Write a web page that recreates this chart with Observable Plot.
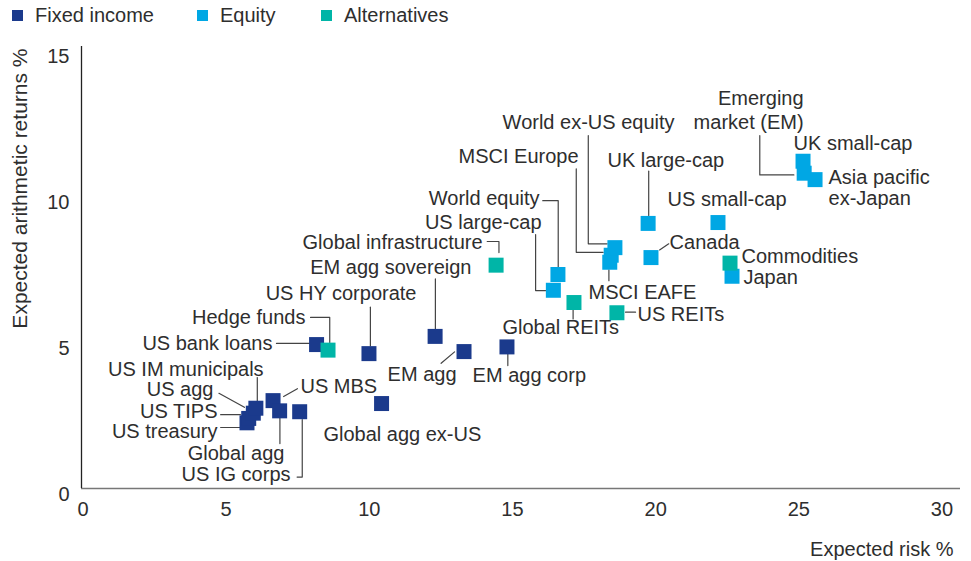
<!DOCTYPE html>
<html><head><meta charset="utf-8">
<script src="https://cdn.jsdelivr.net/npm/d3@7"></script>
<script src="https://cdn.jsdelivr.net/npm/@observablehq/plot@0.6"></script>
<style>
body{margin:0;background:#fff;font-family:"Liberation Sans",Arial,sans-serif;color:#2e2e2e;}
#legend{position:relative;height:30px;font-size:20px;width:971px;}
.item{position:absolute;top:0;height:30px;display:flex;align-items:center;white-space:nowrap;}
.sw{width:11px;height:11px;display:inline-block;margin-right:12px;}
</style></head><body>
<div id="legend"></div><div id="chart"></div>
<script>
// ---- data ----
const categories = ["Fixed income", "Equity", "Alternatives"];
const colors = ["#1b3a8c", "#00a7e4", "#00b5a7"];
const names = [
  "US treasury", "US TIPS", "US agg", "US IM municipals", "US MBS", "Global agg", "US IG corps",
  "US bank loans", "US HY corporate", "Global agg ex-US", "EM agg sovereign", "EM agg", "EM agg corp",
  "World equity", "US large-cap", "MSCI EAFE", "MSCI Europe", "World ex-US equity", "UK large-cap",
  "Canada", "US small-cap", "Japan", "UK small-cap", "Emerging market (EM)", "Asia pacific ex-Japan",
  "Hedge funds", "Global infrastructure", "Global REITs", "US REITs", "Commodities"
];
const groups = [
  "Fixed income", "Fixed income", "Fixed income", "Fixed income", "Fixed income", "Fixed income", "Fixed income",
  "Fixed income", "Fixed income", "Fixed income", "Fixed income", "Fixed income", "Fixed income",
  "Equity", "Equity", "Equity", "Equity", "Equity", "Equity",
  "Equity", "Equity", "Equity", "Equity", "Equity", "Equity",
  "Alternatives", "Alternatives", "Alternatives", "Alternatives", "Alternatives"
];
const risk = [
  5.78, 5.84, 6.00, 6.09, 6.69, 6.92, 7.62,
  8.21, 10.04, 10.48, 12.35, 13.36, 14.86,
  16.64, 16.48, 18.45, 18.50, 18.63, 19.79,
  19.89, 22.23, 22.72, 25.20, 25.24, 25.62,
  8.61, 14.48, 17.20, 18.70, 22.65
];
const returns = [
  2.25, 2.40, 2.58, 2.75, 3.01, 2.66, 2.63,
  4.93, 4.62, 2.91, 5.21, 4.69, 4.85,
  7.33, 6.79, 7.75, 7.99, 8.25, 9.08,
  7.91, 9.11, 7.27, 11.21, 10.80, 10.58,
  4.74, 7.65, 6.37, 6.02, 7.72
];
const xTicks = [0, 5, 10, 15, 20, 25, 30];
const yTicks = [0, 5, 10, 15];
const xTitle = "Expected risk %";
const yTitle = "Expected arithmetic returns %";

// ---- label layout (annotation positions, in data units) ----
const annotations = [
  {text: "US bank loans", x: 6.67, y: 4.97, anchor: "end", path: [[6.81, 4.97], [7.96, 4.97]]},
  {text: "Hedge funds", x: 7.82, y: 5.86, anchor: "end", path: [[8.00, 5.86], [8.67, 5.86], [8.67, 5.00]]},
  {text: "US IM municipals", x: 6.36, y: 4.08, anchor: "end", path: [[6.14, 3.80], [6.14, 3.01]]},
  {text: "US agg", x: 4.61, y: 3.38, anchor: "end", path: [[4.80, 3.26], [5.69, 2.78]]},
  {text: "US TIPS", x: 4.75, y: 2.64, anchor: "end", path: [[4.86, 2.53], [5.55, 2.53]]},
  {text: "US treasury", x: 4.75, y: 1.95, anchor: "end", path: [[4.86, 2.09], [5.55, 2.09]]},
  {text: "US MBS", x: 7.65, y: 3.49, anchor: "start", path: [[7.06, 3.15], [7.54, 3.42]]},
  {text: "Global agg", x: 7.09, y: 1.20, anchor: "end", path: [[6.93, 2.40], [6.93, 1.54]]},
  {text: "US IG corps", x: 7.30, y: 0.48, anchor: "end", path: [[7.71, 2.36], [7.71, 0.39], [7.53, 0.39]]},
  {text: "Global agg ex-US", x: 8.45, y: 1.85, anchor: "start", path: null},
  {text: "US HY corporate", x: 11.70, y: 6.68, anchor: "end", path: [[10.09, 6.21], [10.09, 4.88]]},
  {text: "EM agg sovereign", x: 13.62, y: 7.57, anchor: "end", path: [[12.36, 7.18], [12.36, 5.45]]},
  {text: "Global infrastructure", x: 14.01, y: 8.42, anchor: "end", path: [[14.17, 8.46], [14.58, 8.46], [14.58, 8.08]]},
  {text: "EM agg", x: 10.69, y: 3.90, anchor: "start", path: [[12.56, 4.29], [13.03, 4.68]]},
  {text: "EM agg corp", x: 13.66, y: 3.87, anchor: "start", path: [[14.89, 4.61], [14.89, 4.21]]},
  {text: "Global REITs", x: 14.70, y: 5.50, anchor: "start", path: [[17.17, 6.12], [17.17, 5.81]]},
  {text: "US REITs", x: 19.42, y: 5.96, anchor: "start", path: [[19.00, 6.04], [19.35, 6.04]]},
  {text: "MSCI EAFE", x: 17.71, y: 6.71, anchor: "start", path: [[18.42, 7.49], [18.42, 7.12]]},
  {text: "World equity", x: 16.00, y: 9.93, anchor: "end", path: [[16.11, 9.86], [16.65, 9.86], [16.65, 7.58]]},
  {text: "US large-cap", x: 16.07, y: 9.11, anchor: "end", path: [[15.86, 8.70], [15.86, 6.78], [16.21, 6.78]]},
  {text: "MSCI Europe", x: 17.36, y: 11.37, anchor: "end", path: [[17.28, 10.95], [17.28, 8.09], [18.22, 8.09]]},
  {text: "World ex-US equity", x: 17.71, y: 12.54, anchor: "middle", path: [[17.70, 12.09], [17.70, 8.38], [18.36, 8.38]]},
  {text: "UK large-cap", x: 18.37, y: 11.23, anchor: "start", path: [[19.81, 10.87], [19.81, 9.35]]},
  {text: "Canada", x: 20.54, y: 8.42, anchor: "start", path: [[20.19, 8.17], [20.51, 8.38]]},
  {text: "US small-cap", x: 20.47, y: 9.90, anchor: "start", path: null},
  {text: "Commodities", x: 23.05, y: 7.95, anchor: "start", path: null},
  {text: "Japan", x: 23.12, y: 7.23, anchor: "start", path: null},
  {text: "UK small-cap", x: 24.87, y: 11.80, anchor: "start", path: null},
  {text: "Emerging", x: 25.22, y: 13.35, anchor: "end", path: null},
  {text: "market (EM)", x: 25.22, y: 12.54, anchor: "end", path: [[23.69, 12.09], [23.69, 10.74], [24.88, 10.74]]},
  {text: "Asia pacific", x: 26.09, y: 10.66, anchor: "start", path: null},
  {text: "ex-Japan", x: 26.09, y: 9.93, anchor: "start", path: null}
];

// ---- build ----
const data = names.map((n, i) => ({name: n, group: groups[i], risk: risk[i], ret: returns[i]}))
  .sort((a, b) => categories.indexOf(a.group) - categories.indexOf(b.group));

const leaderPts = annotations.filter(a => a.path).flatMap(a => a.path.map(([x, y]) => ({id: a.text, x, y})));

// legend
const legendPos = [12, 197, 321];
const legend = document.getElementById("legend");
categories.forEach((c, i) => {
  const it = document.createElement("div");
  it.className = "item";
  it.style.left = legendPos[i] + "px";
  it.innerHTML = `<span class="sw" style="background:${colors[i]}"></span><span>${c}</span>`;
  legend.appendChild(it);
});

const labelMark = anchor => Plot.text(annotations.filter(a => a.anchor === anchor),
  {x: "x", y: "y", text: "text", textAnchor: anchor, lineAnchor: "middle", fill: "#2e2e2e"});

const chart = Plot.plot({
  width: 971, height: 531,
  marginLeft: 81, marginRight: 11, marginTop: 16, marginBottom: 73,
  style: {fontFamily: "'Liberation Sans', Arial, sans-serif", fontSize: "20px", color: "#2e2e2e", background: "#fff", overflow: "visible"},
  x: {domain: [0, 30.7]},
  y: {domain: [0, 15.14]},
  color: {domain: categories, range: colors},
  marks: [
    Plot.axisX({ticks: xTicks, tickSize: 0, tickPadding: 13, label: null, dx: 1.5}),
    Plot.axisY({ticks: yTicks, tickSize: 0, tickPadding: 12, label: null, dy: 6}),
    Plot.ruleY([0], {stroke: "#777", strokeWidth: 1.4}),
    Plot.ruleX([0], {stroke: "#222", strokeWidth: 1.3}),
    Plot.line(leaderPts, {x: "x", y: "y", z: "id", stroke: "#444", strokeWidth: 1.2}),
    Plot.dot(data, {x: "risk", y: "ret", fill: "group", symbol: "square", r: 8.46}),
    labelMark("start"), labelMark("end"), labelMark("middle"),
    Plot.text([xTitle], {text: d => d, frameAnchor: "bottom-right", textAnchor: "end", lineAnchor: "middle", dx: -7, dy: 61}),
    Plot.text([yTitle], {text: d => d, frameAnchor: "top-left", rotate: -90, textAnchor: "end", lineAnchor: "middle", fontSize: 21, dx: -61, dy: 2})
  ]
});
document.getElementById("chart").appendChild(chart);
</script>
</body></html>
